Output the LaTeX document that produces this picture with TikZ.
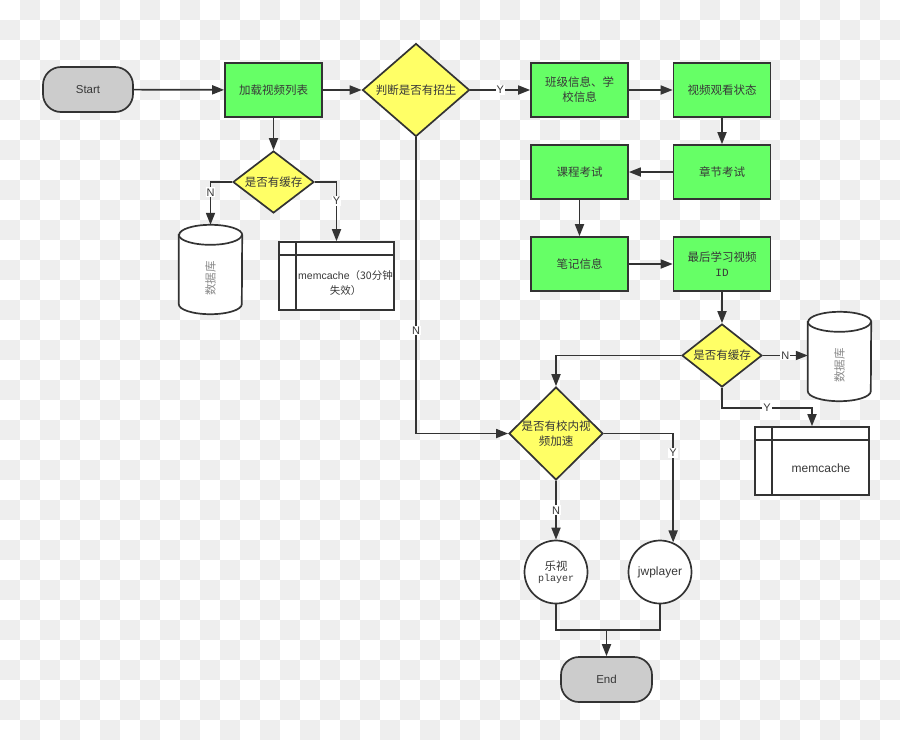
\documentclass[tikz,border=0pt]{standalone}
\usepackage{fontspec}
\setmainfont{Liberation Sans}
\newfontfamily\cjk{Noto Sans CJK SC}
\newfontfamily\mono{Liberation Mono}
\usetikzlibrary{shapes.geometric,arrows.meta,calc}
\definecolor{bggray}{HTML}{EEEEEE}
\definecolor{boxgreen}{HTML}{66FF66}
\definecolor{dyellow}{HTML}{FFFF66}
\definecolor{tgray}{HTML}{CCCCCC}
\definecolor{ink}{HTML}{333333}
\definecolor{txt}{HTML}{383838}
\definecolor{dbtxt}{HTML}{8A8A8A}
\newcommand\zh{\cjk\fontsize{11.5}{15}\selectfont}
\newcommand\dbcyl[4]{%
  \node[minimum width=63pt,minimum height=#4,inner sep=0pt] (#1) at (#2,#3) {};
  \draw[line,fill=white] ($(#1.north west)+(0,-10)$) -- ($(#1.south west)+(0,10)$)
     arc[start angle=180,end angle=360,x radius=31.5pt,y radius=10pt]
     -- ($(#1.north east)+(0,-10)$)
     arc[start angle=0,end angle=180,x radius=31.5pt,y radius=10pt] -- cycle;
  \draw[line] ($(#1.north west)+(0,-10)$) arc[start angle=180,end angle=360,x radius=31.5pt,y radius=10pt];
  \node[rotate=90,text=dbtxt,font=\zh] at ($(#1.center)+(0,-9)$) {数据库};
}
\newcommand\memcell[1]{%
  \draw[line] ([xshift=18pt]#1.north west) -- ([xshift=18pt]#1.south west);
  \draw[line] ([yshift=-14pt]#1.north west) -- ([yshift=-14pt]#1.north east);
}
\begin{document}
\begin{tikzpicture}[x=1pt,y=1pt,
  line/.style={draw=ink,line width=1.7pt},
  arr/.style={line,-{Triangle[length=12pt,width=9pt]}},
  greenbox/.style={line,fill=boxgreen,minimum width=97pt,minimum height=54pt,inner sep=0pt,align=center,text=txt,font=\zh},
  term/.style={line,fill=tgray,rounded corners=18pt,minimum width=90pt,minimum height=45pt,inner sep=0pt,text=txt,font=\fontsize{11.5}{14}\selectfont},
  dia/.style={line,fill=dyellow,diamond,inner sep=0pt},
  diatext/.style={text=txt,font=\zh,align=center},
  memtext/.style={text=txt,align=center,font=\fontsize{11.5}{15}\selectfont},
  circ/.style={line,fill=white,circle,minimum size=63pt,inner sep=0pt,align=center,text=txt},
  lbl/.style={fill=white,inner sep=1pt,text=txt,font=\fontsize{11}{13}\selectfont}
]
\useasboundingbox (0,0) rectangle (900,-740);
% checkerboard background
\fill[white] (0,0) rectangle (900,-740);
\foreach \i in {0,...,44}{\foreach \j in {0,...,36}{%
  \pgfmathtruncatemacro\k{mod(\i+\j,2)}%
  \ifnum\k=1 \fill[bggray] (\i*20,-\j*20) rectangle ++(20,-20);\fi}}

% nodes
\node[term] (st) at (88,-89.5) {Start};
\node[greenbox] (load) at (273.5,-90) {加载视频列表};
\node[dia,minimum width=107pt,minimum height=93pt] (judge) at (416,-90) {};
\node[diatext] at (judge) {判断是否有招生};
\node[dia,minimum width=81pt,minimum height=62pt] (d1) at (273.5,-182) {};
\node[diatext] at (d1) {是否有缓存};
\dbcyl{db1}{210.5}{-269.5}{89pt}
\node[line,fill=white,minimum width=115pt,minimum height=68pt,inner sep=0pt] (mem1) at (336.5,-276) {};
\memcell{mem1}
\node[memtext,font=\fontsize{10.5}{15}\selectfont] at ($(mem1.center)+(9,-7)$) {memcache{\cjk （30分钟}\\{\cjk 失效）}};

\node[greenbox] (cls) at (579.5,-90) {班级信息、学\\校信息};
\node[greenbox] (watch) at (722,-90) {视频观看状态};
\node[greenbox] (chap) at (722,-172) {章节考试};
\node[greenbox] (course) at (579.5,-172) {课程考试};
\node[greenbox] (note) at (579.5,-264) {笔记信息};
\node[greenbox] (last) at (722,-264) {最后学习视频\\{\mono\fontsize{11}{14}\selectfont ID}};

\node[dia,minimum width=80pt,minimum height=63pt] (d2) at (722,-355.5) {};
\node[diatext] at (d2) {是否有缓存};
\dbcyl{db2}{839.5}{-356.5}{89pt}
\node[line,fill=white,minimum width=114pt,minimum height=68pt,inner sep=0pt] (mem2) at (812,-461) {};
\memcell{mem2}
\node[memtext,font=\fontsize{12}{15}\selectfont] at ($(mem2.center)+(9,-7)$) {memcache};

\node[dia,minimum width=94pt,minimum height=93pt] (d3) at (556,-433.5) {};
\node[diatext] at (d3) {是否有校内视\\频加速};
\node[circ] (le) at (556,-572) {{\zh 乐视}\\[-1pt]{\mono\fontsize{10}{12}\selectfont player}};
\node[circ,font=\fontsize{12}{14}\selectfont] (jw) at (660,-572) {jwplayer};
\node[term,minimum width=91pt] (fin) at (606.5,-679.5) {End};

% connectors
\draw[arr] (st) -- (load);
\draw[arr] (load) -- (judge);
\draw[arr] (load) -- (d1);
\draw[arr] (d1.west) -| (db1.north) node[lbl,pos=0.62] {N};
\draw[arr] (d1.east) -| (mem1.north) node[lbl,pos=0.66] {Y};
\draw[arr] (judge.east) -- (cls.west) node[lbl,pos=0.5] {Y};
\draw[arr] (judge.south) |- (d3.west) node[lbl,pos=0.326] {N};
\draw[arr] (cls) -- (watch);
\draw[arr] (watch) -- (chap);
\draw[arr] (chap) -- (course);
\draw[arr] (course) -- (note);
\draw[arr] (note) -- (last);
\draw[arr] (last) -- (d2);
\draw[arr] (d2.east) -- (d2.east -| db2.west) node[lbl,pos=0.5] {N};
\draw[arr] (d2.south) -- ++(0,-20) -| (mem2.north) node[lbl,pos=0.25] {Y};
\draw[arr] (d2.west) -| (d3.north);
\draw[arr] (d3.east) -| (jw.66) node[lbl,pos=0.59] {Y};
\draw[arr] (d3.south) -- (le.north) node[lbl,pos=0.5] {N};
\coordinate (m) at (606.5,-630);
\draw[line] (le.south) |- (m) -| (jw.south);
\draw[arr] (m) -- (fin);
\end{tikzpicture}
\end{document}
